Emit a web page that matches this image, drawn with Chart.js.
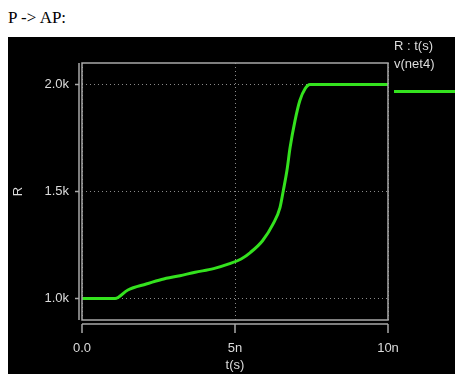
<!DOCTYPE html>
<html>
<head>
<meta charset="utf-8">
<script src="https://cdn.jsdelivr.net/npm/chart.js@4/dist/chart.umd.min.js"></script>
<style>
  html, body { margin: 0; padding: 0; background: #fff; width: 455px; height: 374px; overflow: hidden; }
  #title { position: absolute; left: 8px; top: 8px; font: 17px "Liberation Serif", "Times New Roman", serif; color: #000; }
  #wrap { position: absolute; left: 8px; top: 37px; width: 447px; height: 337px; background: #000; }
</style>
</head>
<body>
<div id="title">P -&gt; AP:</div>
<div id="wrap"><canvas id="myChart" width="447" height="337"></canvas></div>
<script>
// transient of the resistance, time in ns, R in ohms
const timeNs = [0, 1.08, 1.5, 2.1, 2.6, 3.2, 3.7, 4.3, 4.8, 5.2, 5.5, 5.9, 6.25, 6.47, 6.58, 6.7, 6.8, 6.96, 7.12, 7.29, 7.45, 8, 9, 10];
const resistance = [1000, 1000, 1040, 1068, 1089, 1107, 1123, 1140, 1162, 1185, 1215, 1270, 1350, 1425, 1505, 1600, 1705, 1830, 1925, 1980, 2000, 2000, 2000, 2000];

const xTicks = [0, 5, 10];
const xTickLabels = ['0.0', '5n', '10n'];
const yTicks = [1000, 1500, 2000];
const yTickLabels = ['1.0k', '1.5k', '2.0k'];

const seriesName = 'v(net4)';
const plotName = 'R : t(s)';
const green = 'rgb(52,226,30)';
const frame = '#a8a8a8';
const labelFont = { family: 'Liberation Sans, Arial, sans-serif', size: 13 };

// box around the plot plus detached axis lines and legend on the right
const scopeFrame = {
  id: 'scopeFrame',
  afterDraw(chart) {
    const { ctx, chartArea: a, scales: { x, y } } = chart;
    ctx.save();
    ctx.strokeStyle = frame;
    ctx.lineWidth = 1.5;
    ctx.strokeRect(a.left, a.top, a.right - a.left, a.bottom - a.top);

    // y axis
    ctx.beginPath();
    ctx.moveTo(a.left - 3, a.top);
    ctx.lineTo(a.left - 3, a.bottom);
    yTicks.forEach(v => {
      const py = y.getPixelForValue(v);
      ctx.moveTo(a.left - 7, py);
      ctx.lineTo(a.left - 3, py);
    });
    // x axis
    const ay = a.bottom + 4;
    ctx.moveTo(a.left, ay);
    ctx.lineTo(a.right, ay);
    xTicks.forEach(v => {
      const px = x.getPixelForValue(v);
      ctx.moveTo(px, ay);
      ctx.lineTo(px, ay + 9);
    });
    ctx.stroke();

    // legend
    ctx.fillStyle = '#dcdcdc';
    ctx.font = '13px ' + labelFont.family;
    ctx.textBaseline = 'middle';
    ctx.textAlign = 'left';
    ctx.fillText(plotName, 386, 9);
    ctx.fillText(seriesName, 386, 27);
    ctx.strokeStyle = green;
    ctx.lineWidth = 3;
    ctx.beginPath();
    ctx.moveTo(386, 54.5);
    ctx.lineTo(447, 54.5);
    ctx.stroke();
    ctx.restore();
  }
};

const ctx = document.getElementById('myChart').getContext('2d');

const chart = new Chart(ctx, {
  type: 'line',
  data: {
    datasets: [{
      label: seriesName,
      data: timeNs.map((t, i) => ({ x: t, y: resistance[i] })),
      borderColor: green,
      borderWidth: 3,
      pointRadius: 0,
      cubicInterpolationMode: 'monotone',
      fill: false
    }]
  },
  options: {
    responsive: false,
    animation: false,
    layout: { padding: { top: 26, right: 67, left: 0, bottom: 0 } },
    plugins: {
      legend: { display: false },
      tooltip: { enabled: false }
    },
    scales: {
      x: {
        type: 'linear',
        min: 0,
        max: 10,
        afterFit: s => { s.height = 54; },
        afterBuildTicks: s => { s.ticks = xTicks.map(v => ({ value: v })); },
        ticks: {
          color: '#dcdcdc',
          font: labelFont,
          padding: 21,
          maxRotation: 0,
          callback: (v) => xTickLabels[xTicks.indexOf(v)]
        },
        grid: { color: '#8a8a8a', lineWidth: 1, drawTicks: false },
        border: { display: false, dash: [1, 3] },
        title: { display: true, text: 't(s)', color: '#dcdcdc', font: labelFont, padding: { top: 0, bottom: 1 } }
      },
      y: {
        min: 900,
        max: 2100,
        afterFit: s => { s.width = 74; },
        afterBuildTicks: s => { s.ticks = yTicks.map(v => ({ value: v })); },
        ticks: {
          color: '#dcdcdc',
          font: labelFont,
          padding: 13,
          callback: (v) => yTickLabels[yTicks.indexOf(v)]
        },
        grid: { color: '#8a8a8a', lineWidth: 1, drawTicks: false },
        border: { display: false, dash: [1, 3] },
        title: { display: true, text: 'R', color: '#dcdcdc', font: labelFont, padding: { top: 3 } }
      }
    }
  },
  plugins: [scopeFrame]
});
</script>
</body>
</html>
